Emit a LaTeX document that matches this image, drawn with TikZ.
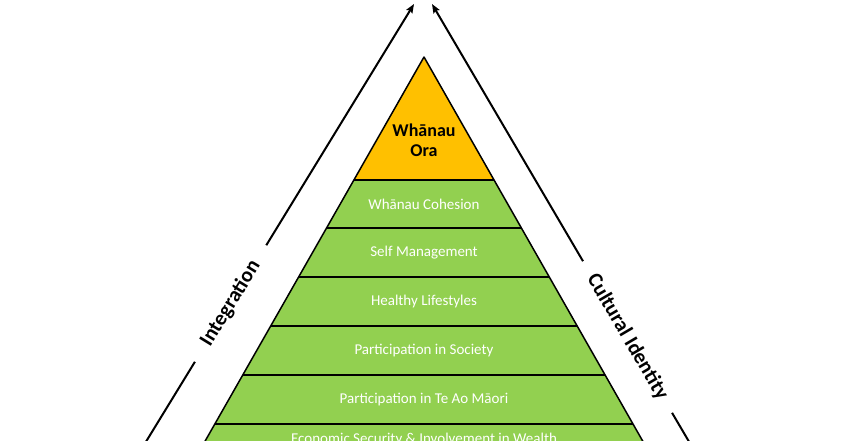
\documentclass[tikz,border=0pt]{standalone}
\usepackage{fontspec}
\setmainfont{Carlito}
\usetikzlibrary{arrows.meta}
\definecolor{oragold}{HTML}{FFC000}
\definecolor{tiergreen}{HTML}{92D050}

\begin{document}
\begin{tikzpicture}[
    x=1pt, y=-1pt, % one unit per pixel, y downwards
    tier/.style={text=white, font=\fontsize{15}{18}\selectfont},
    side/.style={font=\bfseries\fontsize{21}{24}\selectfont, inner ysep=0pt},
    >={Stealth[length=9pt,width=7pt,inset=1.5pt]}
]
\clip (0,0) rectangle (850,440);

% Pyramid
\coordinate (apex) at (424,57);
\coordinate (baseL) at (186.9,473);
\coordinate (baseR) at (660.9,473);
\fill[tiergreen] (apex) -- (baseL) -- (baseR) -- cycle;
\fill[oragold] (apex) -- (353.9,180) -- (494.1,180) -- cycle;
\begin{scope}
    \clip (apex) -- (baseL) -- (baseR) -- cycle;
    \draw[line width=1.5pt] (0,180) -- (850,180);
    \draw[line width=1.5pt] (0,228) -- (850,228);
    \draw[line width=1.5pt] (0,277) -- (850,277);
    \draw[line width=1.5pt] (0,326) -- (850,326);
    \draw[line width=1.5pt] (0,375) -- (850,375);
    \draw[line width=1.5pt] (0,424) -- (850,424);
\end{scope}
\draw[line width=1.5pt, line join=round] (apex) -- (baseL) -- (baseR) -- cycle;

% Nodes
\node[font=\bfseries\fontsize{18}{20}\selectfont, align=center] (ora) at (424,140) {Whānau\\Ora};
\node[tier] (cohesion) at (424,204) {Whānau Cohesion};
\node[tier] (selfman) at (424,252.5) {Self Management};
\node[tier] (healthy) at (424,301.5) {Healthy Lifestyles};
\node[tier] (society) at (424,350.5) {Participation in Society};
\node[tier] (teao) at (424,399.5) {Participation in Te Ao Māori};
\node[tier, anchor=base] (wealth) at (424,443) {Economic Security \& Involvement in Wealth};

\coordinate (intlo) at (140.9,450);
\coordinate (inthi) at (414,4);
\coordinate (cullo) at (693.9,450);
\coordinate (culhi) at (432,4);
\node[side, rotate=58.5, inner xsep=20pt] (integ) at (230.6,303.5) {Integration};
\node[side, rotate=-59.6, inner xsep=17pt] (cultid) at (627.5,337) {Cultural Identity};

% Edges
\draw[line width=2pt] (intlo) -- (integ);
\draw[line width=2pt, ->] (integ) -- (inthi);
\draw[line width=2pt] (cullo) -- (cultid);
\draw[line width=2pt, ->] (cultid) -- (culhi);

\end{tikzpicture}
\end{document}
